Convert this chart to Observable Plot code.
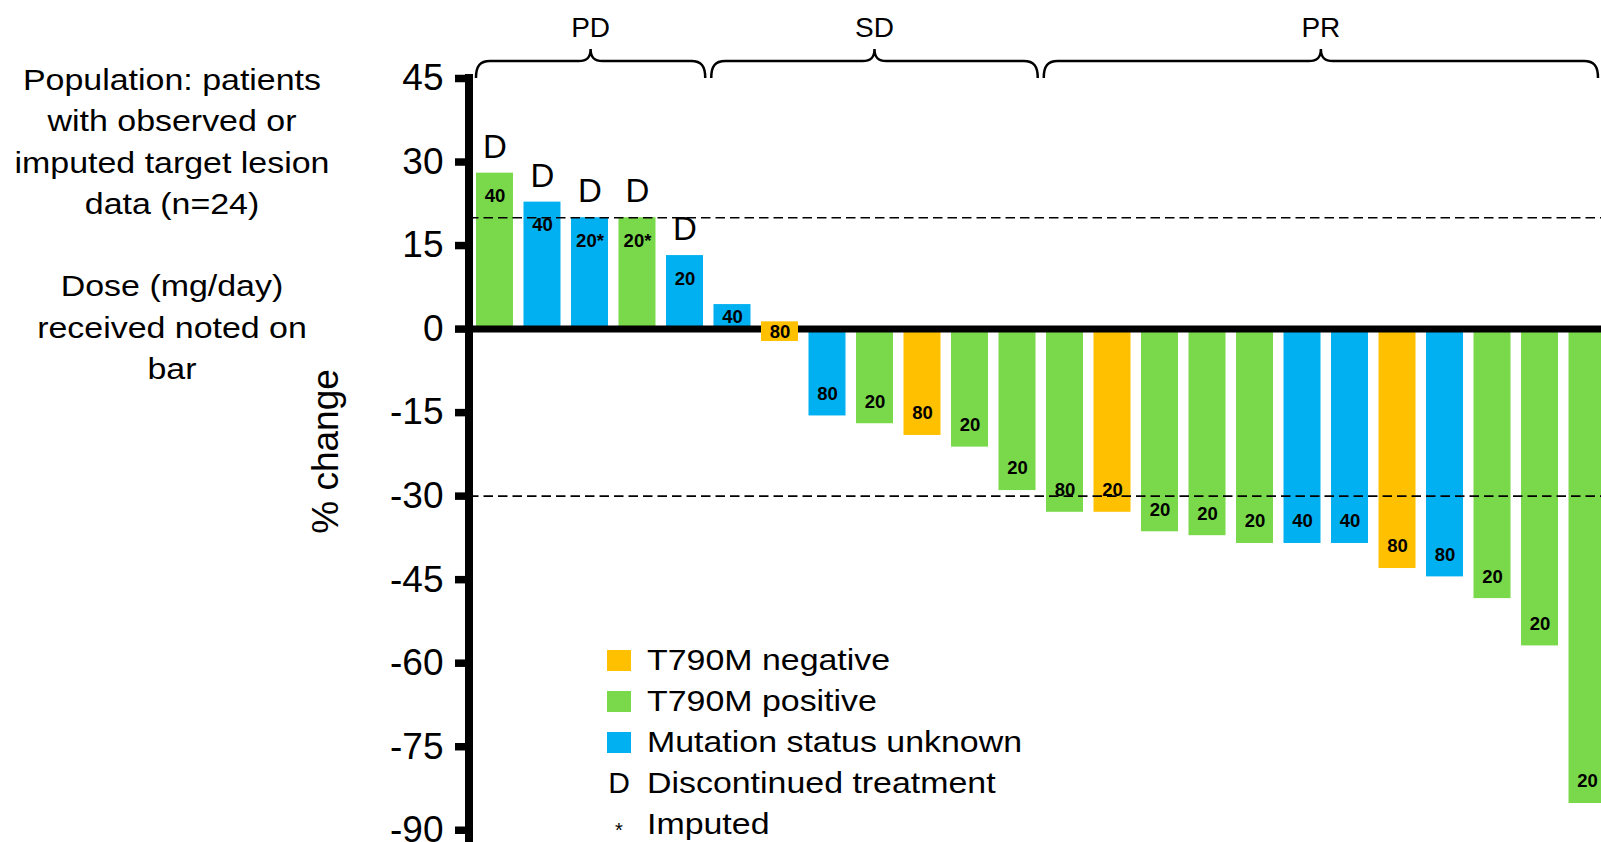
<!DOCTYPE html>
<html>
<head>
<meta charset="utf-8">
<script src="https://cdn.jsdelivr.net/npm/d3@7"></script>
<script src="https://cdn.jsdelivr.net/npm/@observablehq/plot@0.6"></script>
<style>
  html, body { margin: 0; padding: 0; background: #fff; overflow: hidden; }
  #wrap { position: relative; width: 1601px; height: 842px; overflow: hidden;
          font-family: "Liberation Sans", Arial, sans-serif; color: #000; }
  #wrap > svg { position: absolute; left: 0; top: 0; overflow: hidden; }
  .note { position: absolute; left: 2px; top: 59px; width: 340px; text-align: center;
          font-size: 29.5px; line-height: 41.3px; transform: scaleX(1.15); transform-origin: 170px 0; }
  .legend { position: absolute; left: 607px; top: 639px; font-size: 30px; line-height: 41px; }
  .row { position: relative; height: 41px; width: 440px; }
  .sw { position: absolute; left: 0; top: 10.5px; width: 24px; height: 21.5px; }
  .key { position: absolute; left: 0; top: 0; width: 24px; text-align: center; }
  .key.small { font-size: 20px; line-height: 20px; top: 17px; }
  .lab { position: absolute; left: 40px; top: 0; white-space: nowrap;
         transform: scaleX(1.13); transform-origin: 0 0; }
</style>
</head>
<body>
<div id="wrap">
  <div class="note">Population: patients<br>with observed or<br>imputed target lesion<br>data (n=24)<br><br>Dose (mg/day)<br>received noted on<br>bar</div>
  <div class="legend" id="legend"></div>
</div>
<script>
// Best percentage change in target lesion size, one bar per patient
const changePct = [28, 22.8, 20, 20, 13.2, 4.4, -2.2, -15.6, -17, -19.1, -21.2, -29,
                   -32.9, -32.9, -36.4, -37.1, -38.5, -38.5, -38.5, -43, -44.5, -48.4, -56.9, -85.2];
const mutation = ["T790M positive", "Mutation status unknown", "Mutation status unknown", "T790M positive",
                  "Mutation status unknown", "Mutation status unknown", "T790M negative", "Mutation status unknown",
                  "T790M positive", "T790M negative", "T790M positive", "T790M positive",
                  "T790M positive", "T790M negative", "T790M positive", "T790M positive",
                  "T790M positive", "Mutation status unknown", "Mutation status unknown", "T790M negative",
                  "Mutation status unknown", "T790M positive", "T790M positive", "T790M positive"];
const doseMg = [40, 40, 20, 20, 20, 40, 80, 80, 20, 80, 20, 20, 80, 20, 20, 20, 20, 40, 40, 80, 80, 20, 20, 20];
const imputed = [false, false, true, true, false, false, false, false, false, false, false, false,
                 false, false, false, false, false, false, false, false, false, false, false, false];
const discontinued = [true, true, true, true, true, false, false, false, false, false, false, false,
                      false, false, false, false, false, false, false, false, false, false, false, false];
const response = ["PD", "PD", "PD", "PD", "PD", "SD", "SD", "SD", "SD", "SD", "SD", "SD",
                  "PR", "PR", "PR", "PR", "PR", "PR", "PR", "PR", "PR", "PR", "PR", "PR"];
const responseGroups = ["PD", "SD", "PR"];
const statusLabels = ["T790M negative", "T790M positive", "Mutation status unknown"];
const statusColors = ["#FFC000", "#7AD94B", "#00B0F0"];
const yTicks = [45, 30, 15, 0, -15, -30, -45, -60, -75, -90];
const thresholds = [20, -30];

const W = 1601, H = 842, ML = 469, MT = 78;
const TAG = 3.5; // minimum height (in % units) of a bar that can hold its dose label

const rows = changePct.map((v, i) => ({
  id: i + 1,
  change: v,
  status: mutation[i],
  dose: doseMg[i] + (imputed[i] ? "*" : ""),
  disc: discontinued[i],
  group: response[i]
}));
const large = rows.filter(d => Math.abs(d.change) >= 5);
const small = rows.filter(d => Math.abs(d.change) < 5);
const tagged = rows.filter(d => Math.abs(d.change) < TAG);
const labelFont = {fontSize: 18.5, fontWeight: "bold", fill: "#000"};

const chart = Plot.plot({
  width: W, height: H,
  marginLeft: ML, marginRight: 0, marginTop: MT, marginBottom: 0,
  style: {fontFamily: "'Liberation Sans', Arial, sans-serif", background: "white", color: "#000"},
  x: {type: "band", domain: rows.map(d => d.id), range: [ML, 1612.5], round: false,
      paddingInner: 0.221, paddingOuter: 0.147, axis: null},
  y: {domain: [-92.2, 45], axis: null},
  color: {domain: statusLabels, range: statusColors},
  marks: [
    Plot.barY(rows, {x: "id", y: "change", fill: "status"}),
    Plot.ruleY([0], {stroke: "#000", strokeWidth: 7}),
    // short bars get a label box that sits over the zero line
    Plot.barY(tagged, {x: "id", y1: "change", y2: d => d.change + TAG, fill: "status"}),
    Plot.ruleY(thresholds, {stroke: "#000", strokeWidth: 1.6, strokeDasharray: "9.5,5"}),
    Plot.text(large.filter(d => d.change > 0), {x: "id", y: "change", text: "dose", dy: 23, ...labelFont}),
    Plot.text(large.filter(d => d.change < 0), {x: "id", y: "change", text: "dose", dy: -22, ...labelFont}),
    Plot.text(small, {x: "id", y: d => Math.abs(d.change) < TAG ? d.change + TAG / 2 : d.change / 2,
                      text: "dose", ...labelFont}),
    Plot.text(rows.filter(d => d.disc), {x: "id", y: "change", text: () => "D", dy: -26, fontSize: 33, fill: "#000"}),
    Plot.axisY({ticks: yTicks, tickSize: 14, tickPadding: 12, strokeWidth: 7.5, fontSize: 37,
                tickFormat: d => String(d), label: null, fill: "#000", stroke: "#000"}),
    Plot.text(["% change"], {text: d => d, frameAnchor: "left", textAnchor: "middle", rotate: -90,
                             dx: -143, dy: -9, fontSize: 37, fill: "#000"})
  ]
});
document.getElementById("wrap").prepend(chart);

// y axis line
const xs = chart.scale("x"), ys = chart.scale("y");
const svg = d3.select(chart);
svg.append("line")
  .attr("x1", ML).attr("x2", ML)
  .attr("y1", ys.apply(45) - 4).attr("y2", H)
  .attr("stroke", "#000").attr("stroke-width", 8);

// response braces above the bars
const step = xs.step, bw = xs.bandwidth, gap = (step - bw) / 2;
const yEnd = 78, yLine = 61, yTip = 49;
function brace(x0, x1) {
  const xm = (x0 + x1) / 2;
  return `M${x0},${yEnd} C${x0},${yLine + 5} ${x0 + 4},${yLine} ${x0 + 14},${yLine}` +
         ` L${xm - 12},${yLine} C${xm - 4},${yLine} ${xm},${yLine - 3} ${xm},${yTip}` +
         ` C${xm},${yLine - 3} ${xm + 4},${yLine} ${xm + 12},${yLine}` +
         ` L${x1 - 14},${yLine} C${x1 - 4},${yLine} ${x1},${yLine + 5} ${x1},${yEnd}`;
}
responseGroups.forEach((g, gi) => {
  const members = rows.filter(d => d.group === g);
  const first = xs.apply(members[0].id);
  const last = xs.apply(members[members.length - 1].id) + bw;
  const x0 = gi === 0 ? first : first - gap + 3;
  const x1 = gi === responseGroups.length - 1 ? Math.min(last, W) - 3 : last + gap - 3;
  svg.append("path").attr("d", brace(x0, x1))
    .attr("fill", "none").attr("stroke", "#000").attr("stroke-width", 2.5);
  svg.append("text").attr("x", (x0 + x1) / 2).attr("y", 36.5)
    .attr("text-anchor", "middle").attr("font-size", 28).attr("fill", "#000").text(g);
});

// legend
const legend = d3.select("#legend");
statusLabels.forEach((s, i) => {
  const r = legend.append("div").attr("class", "row");
  r.append("div").attr("class", "sw").style("background", statusColors[i]);
  r.append("span").attr("class", "lab").text(s);
});
const r4 = legend.append("div").attr("class", "row");
r4.append("span").attr("class", "key").text("D");
r4.append("span").attr("class", "lab").text("Discontinued treatment");
const r5 = legend.append("div").attr("class", "row");
r5.append("span").attr("class", "key small").text("*");
r5.append("span").attr("class", "lab").text("Imputed");
</script>
</body>
</html>
